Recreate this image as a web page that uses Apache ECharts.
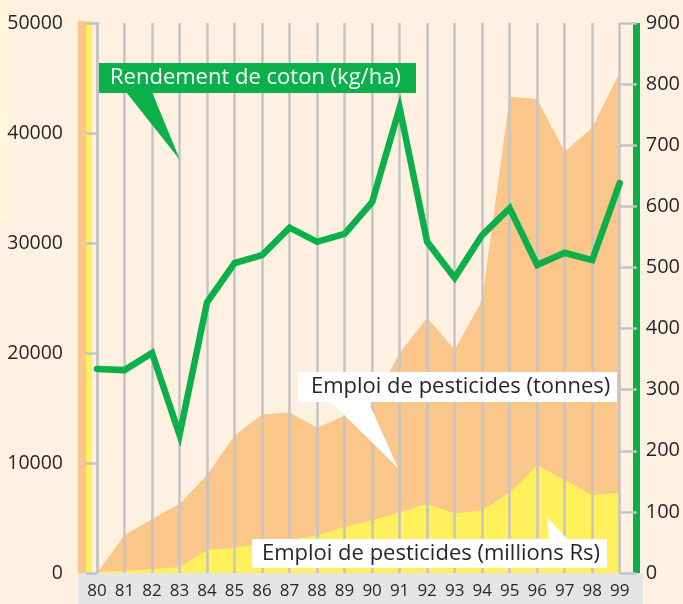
<!DOCTYPE html>
<html>
<head>
<meta charset="utf-8">
<script src="https://cdn.jsdelivr.net/npm/echarts@6/dist/echarts.min.js"></script>
<style>
html,body{margin:0;padding:0;background:#FEF1E2;}
#chart{width:683px;height:604px;}
</style>
</head>
<body>
<div id="chart"></div>
<script>
// Data
var years = ['80','81','82','83','84','85','86','87','88','89','90','91','92','93','94','95','96','97','98','99'];
var pesticidesTonnes = [0, 3450, 4900, 6300, 8900, 12500, 14400, 14600, 13200, 14300, 15300, 20000, 23200, 20300, 24800, 43300, 43100, 38300, 40500, 45500];
var pesticidesMillionsRs = [100, 200, 350, 550, 2100, 2300, 2700, 3000, 3400, 4200, 4800, 5500, 6300, 5400, 5700, 7300, 9800, 8450, 7100, 7300];
var cottonYield = [334, 332, 360, 226, 443, 507, 520, 565, 542, 555, 607, 761, 542, 483, 553, 597, 504, 524, 512, 638];
var leftTicks = { min: 0, max: 50000, interval: 10000 };
var rightTicks = { min: 0, max: 900, interval: 100 };
var labelYield = 'Rendement de coton (kg/ha)';
var labelTonnes = 'Emploi de pesticides (tonnes)';
var labelRs = 'Emploi de pesticides (millions Rs)';

var FONT = '"Open Sans", "Noto Sans", sans-serif';
var GREEN = '#0BB04B', ORANGE = '#FBC68A', YELLOW = '#FFF05C', GRID = '#C4C4C4', TEXT = '#2A2626';

var chart = echarts.init(document.getElementById('chart'), null, {renderer: 'canvas'});
chart.setOption({
  backgroundColor: '#FEF1E2',
  animation: false,
  textStyle: { fontFamily: FONT },
  grid: { left: 97, right: 61, top: 23, bottom: 31 },
  xAxis: {
    type: 'category', data: years, boundaryGap: false, z: 3,
    axisLine: { show: false }, axisTick: { show: false },
    axisLabel: { color: TEXT, fontSize: 17, margin: 10, fontFamily: FONT, interval: 0 },
    splitLine: { show: true, lineStyle: { color: GRID, width: 2.5 } }
  },
  yAxis: [{
    type: 'value', position: 'left', min: leftTicks.min, max: leftTicks.max, interval: leftTicks.interval, z: 3,
    axisLine: { show: true, lineStyle: { color: GRID, width: 2.5 } },
    axisTick: { show: true, inside: false, length: 11, lineStyle: { color: GRID, width: 2.5 } },
    axisLabel: { color: TEXT, fontSize: 19.5, margin: 34, fontFamily: FONT, formatter: function (v) { return String(v); } },
    splitLine: { show: false }
  }, {
    type: 'value', position: 'right', offset: 17, min: rightTicks.min, max: rightTicks.max, interval: rightTicks.interval, z: 3,
    axisLine: { show: true, lineStyle: { color: GREEN, width: 7, cap: 'butt' } },
    axisTick: { show: true, inside: true, length: 17, lineStyle: { color: GRID, width: 2.5 } },
    axisLabel: { color: TEXT, fontSize: 20, margin: 9, fontFamily: FONT, formatter: function (v) { return String(v); } },
    splitLine: { show: false }
  }],
  series: [{
    name: labelTonnes, type: 'line', yAxisIndex: 0, data: pesticidesTonnes, z: 1,
    showSymbol: false, lineStyle: { width: 0 }, areaStyle: { color: ORANGE, opacity: 1 }
  }, {
    name: labelRs, type: 'line', yAxisIndex: 0, data: pesticidesMillionsRs, z: 2,
    showSymbol: false, lineStyle: { width: 0 }, areaStyle: { color: YELLOW, opacity: 1 }
  }, {
    name: labelYield, type: 'line', yAxisIndex: 1, data: cottonYield, z: 5,
    showSymbol: false, lineStyle: { color: GREEN, width: 6.5, join: 'miter', cap: 'round' }
  }],
  graphic: [
    { type: 'rect', z: -10, shape: { x: 0, y: 0, width: 7, height: 220 }, style: { fill: '#FFF8DA' } },
    { type: 'rect', z: -10, shape: { x: 78, y: 573, width: 565, height: 31 }, style: { fill: '#E5E5E8' } },
    { type: 'rect', z: -10, shape: { x: 78, y: 21, width: 8, height: 552 }, style: { fill: ORANGE } },
    { type: 'rect', z: -10, shape: { x: 86, y: 21, width: 6, height: 552 }, style: { fill: YELLOW } },
    // annotation: yield
    { type: 'polygon', z: 20, shape: { points: [[126, 92], [152, 92], [180, 160]] }, style: { fill: GREEN } },
    { type: 'rect', z: 20, shape: { x: 99, y: 63, width: 317, height: 30 }, style: { fill: GREEN } },
    { type: 'text', z: 21, x: 110, y: 78, style: { text: labelYield, fill: '#FFFFFF', font: '22px ' + FONT, verticalAlign: 'middle' } },
    // annotation: tonnes
    { type: 'polygon', z: 20, shape: { points: [[330, 401], [368, 401], [398, 468]] }, style: { fill: '#FFFFFF' } },
    { type: 'rect', z: 20, shape: { x: 298, y: 372, width: 319, height: 30 }, style: { fill: '#FFFFFF' } },
    { type: 'text', z: 21, x: 311, y: 387, style: { text: labelTonnes, fill: TEXT, font: '22px ' + FONT, verticalAlign: 'middle' } },
    // annotation: millions Rs
    { type: 'polygon', z: 20, shape: { points: [[547, 517], [549, 540], [568, 540]] }, style: { fill: '#FFFFFF' } },
    { type: 'rect', z: 20, shape: { x: 252, y: 539, width: 355, height: 29 }, style: { fill: '#FFFFFF' } },
    { type: 'text', z: 21, x: 262, y: 554, style: { text: labelRs, fill: TEXT, font: '22px ' + FONT, verticalAlign: 'middle' } }
  ]
});
</script>
</body>
</html>
